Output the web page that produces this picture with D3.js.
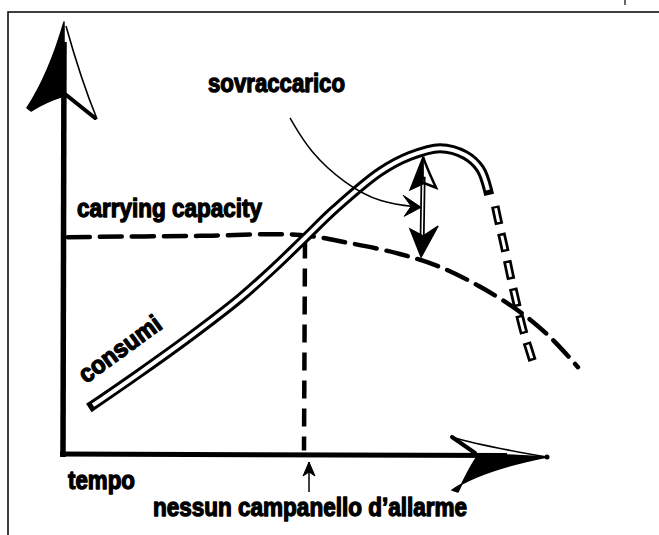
<!DOCTYPE html>
<html>
<head>
<meta charset="utf-8">
<script src="https://cdn.jsdelivr.net/npm/d3@7"></script>
<style>
  body { margin: 0; background: #fff; }
  text { font-family: "Liberation Sans Narrow", "Liberation Sans", Arial, sans-serif; font-weight: bold; fill: #000; }
</style>
</head>
<body>
<script>
// ---- data (time t, level v, both on a 0..100 scale) ----
const consumi = [[6.2, 11.3], [15.9, 18.8], [26.2, 27.1], [36.6, 36.1], [43.8, 43.3], [50.0, 50.0],
  [56.2, 56.7], [65.5, 65.3], [71.7, 69.0], [77.9, 70.8], [83.1, 69.2], [86.2, 66.0], [87.8, 61.1]];
const collapse = [[89.3, 57.4], [89.9, 54.2], [91.1, 48.4], [92.4, 41.4], [93.8, 34.5], [95.2, 28.2], [97.3, 20.6]];
const capacity = [[1.0, 50.2], [28.3, 50.5], [49.0, 50.7], [59.3, 48.8], [69.6, 46.3], [77.9, 43.3],
  [86.2, 38.7], [94.4, 32.9], [100.6, 27.1], [106.4, 20.1]];
const pointer = [[46.9, 77.8], [51.0, 69.9], [58.3, 62.5], [65.5, 58.1], [73.8, 57.1]];
const alarmT = 50;
const alarmRange = [0.8, 49.4];
const overshootT = 74.4;
const overshootRange = [45.6, 68.8];
const labels = ["sovraccarico", "carrying capacity", "consumi", "tempo", "nessun campanello d\u2019allarme"];

const W = 659, H = 535;
const svg = d3.select("body").append("svg").attr("width", W).attr("height", H);

const xScale = d3.scaleLinear().domain([0, 100]).range([63, 547]);
const yScale = d3.scaleLinear().domain([0, 100]).range([454, 22]);

const line = d3.line().x(d => xScale(d[0])).y(d => yScale(d[1])).curve(d3.curveCatmullRom);

// frame
svg.append("path").attr("d", `M8,${H} L8,12 L${W},12`)
  .attr("fill", "none").attr("stroke", "#000").attr("stroke-width", 1.5);
svg.append("path").attr("d", "M625,0 L625,5").attr("stroke", "#000").attr("stroke-width", 1.2);

const ink = svg.append("g").attr("fill", "none").attr("stroke", "#000");

// y axis + hand drawn arrowhead
{
  const tx = xScale(0) + 1, ty = yScale(100);
  ink.append("path").attr("d", `M${xScale(0)},${yScale(0) + 3} L${tx},${ty + 20}`).attr("stroke-width", 5.5);
  ink.append("path")
    .attr("d", `M${tx},${ty} C${tx - 10},${ty + 35} ${tx - 24},${ty + 66} ${tx - 37},${ty + 86} L${tx - 33},${ty + 89} C${tx - 22},${ty + 82} ${tx - 10},${ty + 77} ${tx},${ty + 74} Z`)
    .attr("fill", "#000").attr("stroke-width", 1.5).attr("stroke-linejoin", "round");
  ink.append("path").attr("d", `M${tx + 2},${ty + 4} C${tx + 12},${ty + 40} ${tx + 22},${ty + 70} ${tx + 33},${ty + 97}`).attr("stroke-width", 1.6);
  ink.append("path").attr("d", `M${tx + 1},${ty + 72} L${tx + 31},${ty + 96}`).attr("stroke-width", 4).attr("stroke-linecap", "round");
}

// x axis + arrowhead
{
  const tx = xScale(100), ty = yScale(0) + 3;
  ink.append("path").attr("d", `M${xScale(0) - 3},${yScale(0)} L${tx - 40},${yScale(0) + 1.5}`).attr("stroke-width", 5);
  ink.append("path").attr("d", `M${tx - 95},${ty - 20} C${tx - 70},${ty - 12} ${tx - 35},${ty - 6} ${tx},${ty}`).attr("stroke-width", 1.6);
  ink.append("path").attr("d", `M${tx - 95},${ty - 20} L${tx - 72},${ty - 4}`).attr("stroke-width", 4).attr("stroke-linecap", "round");
  ink.append("path")
    .attr("d", `M${tx},${ty} C${tx - 30},${ty + 6} ${tx - 70},${ty + 16} ${tx - 95},${ty + 33} L${tx - 89},${ty + 35} C${tx - 82},${ty + 20} ${tx - 75},${ty + 6} ${tx - 68},${ty - 3} L${tx - 40},${ty - 2} Z`)
    .attr("fill", "#000").attr("stroke-width", 1.5).attr("stroke-linejoin", "round");
  ink.append("circle").attr("cx", tx).attr("cy", ty).attr("r", 2.5).attr("fill", "#000").attr("stroke", "none");
}

// carrying capacity (dashed)
ink.append("path").datum(capacity).attr("d", line)
  .attr("stroke-width", 4.5).attr("stroke-dasharray", "22 10").attr("stroke-linecap", "round");

// vertical dashed line at the crossing
ink.append("path")
  .attr("d", `M${xScale(alarmT)},${yScale(alarmRange[1])} L${xScale(alarmT) - 1},${yScale(alarmRange[0])}`)
  .attr("stroke-width", 4.5).attr("stroke-dasharray", "18 10");

// consumi: hollow double line
ink.append("path").datum(consumi).attr("d", line).attr("stroke-width", 10).attr("stroke-linecap", "square");
ink.append("path").datum(consumi).attr("d", line).attr("stroke", "#fff").attr("stroke-width", 4);

// collapse: hollow dashes
ink.append("path").datum(collapse).attr("d", line).attr("stroke-width", 8.5).attr("stroke-dasharray", "19 9");
ink.append("path").datum(collapse).attr("d", line).attr("stroke", "#fff").attr("stroke-width", 3)
  .attr("stroke-dasharray", "14 14").attr("stroke-dashoffset", -2.5);

// overshoot double arrow
{
  const ax = xScale(overshootT), top = yScale(overshootRange[1]), bot = yScale(overshootRange[0]);
  ink.append("path").attr("d", `M${ax},${top + 20} L${ax - 1},${bot - 15}`).attr("stroke-width", 5);
  ink.append("path").attr("d", `M${ax},${top + 22} L${ax - 1},${bot - 17}`).attr("stroke", "#fff").attr("stroke-width", 1.5);
  ink.append("path").attr("d", `M${ax},${top} L${ax - 13},${top + 33} L${ax},${top + 27} Z`).attr("fill", "#000").attr("stroke-width", 1.5);
  ink.append("path").attr("d", `M${ax},${top} C${ax + 4},${top + 12} ${ax + 9},${top + 22} ${ax + 13},${top + 31} L${ax},${top + 26}`).attr("stroke-width", 2.5);
  ink.append("path").attr("d", `M${ax - 2},${bot} L${ax - 13},${bot - 28} L${ax},${bot - 21} L${ax + 15},${bot - 31} Z`).attr("fill", "#000").attr("stroke-width", 1.5);
}

// pointer from "sovraccarico"
{
  ink.append("path").datum(pointer).attr("d", d3.line().x(d => xScale(d[0])).y(d => yScale(d[1])).curve(d3.curveBasis))
    .attr("stroke-width", 1.5);
  const p = pointer[pointer.length - 1], tx = xScale(p[0]) + 1, ty = yScale(p[1]);
  ink.append("path").attr("d", `M${tx},${ty} L${tx - 18},${ty - 12} L${tx - 10},${ty - 1} L${tx - 17},${ty + 9} Z`)
    .attr("fill", "#000").attr("stroke-width", 1);
}

// small arrow below the x axis
{
  const ax = xScale(alarmT) + 4, ty = yScale(0) + 8;
  ink.append("path").attr("d", `M${ax},${ty} L${ax},${ty + 30}`).attr("stroke-width", 1.5);
  ink.append("path").attr("d", `M${ax},${ty} L${ax - 6},${ty + 14} L${ax},${ty + 10} L${ax + 6},${ty + 14} Z`)
    .attr("fill", "#000").attr("stroke-width", 1);
}

// labels
const addLabel = (txt, x, y, len, size, rot) => {
  svg.append("text").attr("x", x).attr("y", y)
    .attr("transform", rot ? `rotate(${rot},${x},${y})` : null)
    .attr("textLength", len).attr("lengthAdjust", "spacingAndGlyphs")
    .style("font-size", size + "px").attr("stroke", "#000").attr("stroke-width", 1.3)
    .attr("stroke-linejoin", "round")
    .text(txt);
};
addLabel(labels[0], 208, 92, 137, 25);
addLabel(labels[1], 77, 217, 185, 25);
addLabel(labels[2], 86, 384, 96, 25, -36);
addLabel(labels[3], 68, 489, 67, 25);
addLabel(labels[4], 153, 516, 314, 25);
</script>
</body>
</html>
